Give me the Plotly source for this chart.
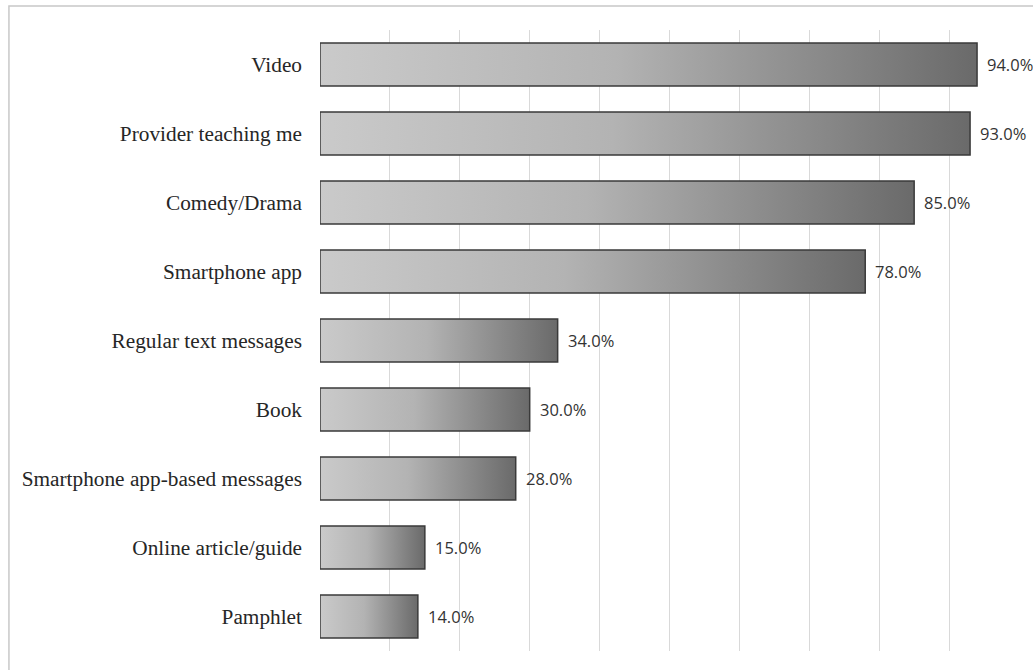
import plotly.graph_objects as go

categories = ["Video", "Provider teaching me", "Comedy/Drama", "Smartphone app",
              "Regular text messages", "Book", "Smartphone app-based messages",
              "Online article/guide", "Pamphlet"]
values = [94.0, 93.0, 85.0, 78.0, 34.0, 30.0, 28.0, 15.0, 14.0]

W, H = 1033, 670
ML, MR, MT, MB = 319.5, 13.5, 30, 19
half = 0.31

fig = go.Figure()
for i, (cat, v) in enumerate(zip(categories, values)):
    fig.add_trace(go.Scatter(
        x=[0, v, v, 0, 0],
        y=[i - half, i - half, i + half, i + half, i - half],
        mode="lines", fill="toself",
        fillgradient=dict(type="horizontal",
                          colorscale=[[0, "#cacaca"], [0.45, "#b3b3b3"], [1, "#6a6a6a"]]),
        line=dict(color="#3a3a3a", width=1.5),
        hoverinfo="skip", showlegend=False, name=cat))
    fig.add_annotation(x=v, y=i, text=f"{v:.1f}%", showarrow=False,
                       xanchor="left", yanchor="middle", xshift=8,
                       font=dict(family="Open Sans", size=16.5, color="#333333"))

pw = W - ML - MR
ph = H - MT - MB
fig.add_shape(type="rect", xref="paper", yref="paper",
              x0=(8 - ML) / pw, x1=2, y0=-1, y1=(H - MB - 6) / ph,
              line=dict(color="#c8c8c8", width=1.5), fillcolor="rgba(0,0,0,0)",
              layer="below")

fig.update_layout(
    width=W, height=H,
    margin=dict(l=ML, r=MR, t=MT, b=MB),
    paper_bgcolor="white", plot_bgcolor="white",
    xaxis=dict(range=[0, 100], dtick=10, showgrid=True, gridcolor="#d9d9d9",
               gridwidth=1, zeroline=False, showticklabels=False, showline=False,
               fixedrange=True),
    yaxis=dict(range=[len(categories) - 0.5, -0.5], tickmode="array",
               tickvals=list(range(len(categories))), ticktext=categories,
               showgrid=False, zeroline=False, showline=False, ticks="",
               ticklabelstandoff=17,
               tickfont=dict(family="Liberation Serif", size=21.3, color="#262626"),
               fixedrange=True),
)
fig.write_html("out.html")
